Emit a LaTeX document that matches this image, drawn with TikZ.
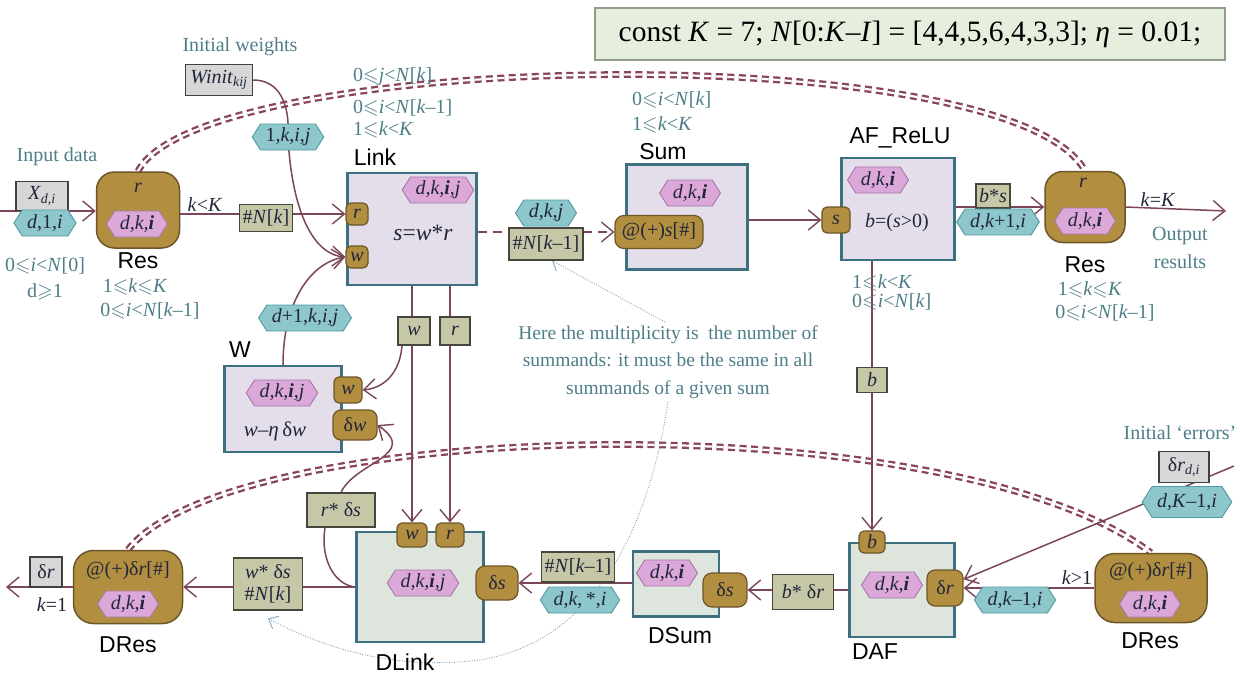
\documentclass[tikz,border=0pt]{standalone}
\usepackage{fontspec}
\usepackage{amssymb}
\setmainfont{Liberation Serif}
\setsansfont{Liberation Sans}
\usetikzlibrary{arrows.meta,shapes.symbols}
\definecolor{procf}{HTML}{E4DEEB}
\definecolor{backf}{HTML}{DDE5DC}
\definecolor{boxb}{HTML}{3D7080}
\definecolor{pinkf}{HTML}{DCA8DA}
\definecolor{pinkd}{HTML}{A577A5}
\definecolor{cyanf}{HTML}{8DC7CB}
\definecolor{cyand}{HTML}{4D9AA2}
\definecolor{goldf}{HTML}{B28F40}
\definecolor{goldd}{HTML}{6C5628}
\definecolor{olivef}{HTML}{C6C7A7}
\definecolor{olived}{HTML}{45463C}
\definecolor{grayf}{HTML}{D7D7D7}
\definecolor{grayd}{HTML}{404040}
\definecolor{linec}{HTML}{7B4659}
\definecolor{dashc}{HTML}{884458}
\definecolor{annoc}{HTML}{4E7E88}
\definecolor{bannerf}{HTML}{E6EEDD}
\definecolor{bannerd}{HTML}{8E9C88}
\definecolor{notec}{HTML}{86A8C4}
\definecolor{inkc}{HTML}{22263A}
\pgfdeclarelayer{under}
\pgfdeclarelayer{wires}
\pgfsetlayers{under,wires,main}
\newcommand{\lesl}{\ensuremath{\leqslant}}
\newcommand{\gesl}{\ensuremath{\geqslant}}
\tikzset{
  conn/.style={draw=linec, line width=1.5pt},
  arr/.style={-{Straight Barb[length=12pt,width=20pt,line width=1.4pt]}},
  ddash/.style={draw=dashc, line width=2.3pt, double=white, double distance=2.2pt, dash pattern=on 7pt off 4.5pt},
  noteline/.style={draw=notec, line width=0.9pt, dash pattern=on 1pt off 1.5pt, -{Straight Barb[length=8pt,width=14pt,line width=0.9pt]}},
  proc/.style={draw=boxb, line width=2.4pt, fill=procf, inner sep=0pt},
  back/.style={draw=boxb, line width=2.4pt, fill=backf, inner sep=0pt},
  hexa/.style={signal, signal to=east and west, signal pointer angle=115, line width=0.9pt, inner xsep=5pt, inner ysep=2pt, minimum height=26pt},
  phex/.style={hexa, draw=pinkd, fill=pinkf},
  chex/.style={hexa, draw=cyand, fill=cyanf},
  port/.style={rounded corners=5pt, draw=goldd, fill=goldf, line width=1.2pt, minimum width=22pt, minimum height=22pt, inner sep=1pt},
  resbox/.style={rounded corners=18pt, draw=goldd, fill=goldf, line width=1.5pt},
  olbox/.style={draw=olived, fill=olivef, line width=1.2pt, inner sep=2pt},
  gybox/.style={draw=grayd, fill=grayf, line width=1.2pt, inner sep=2pt},
  title/.style={font=\sffamily\fontsize{23}{25}\selectfont, text=black},
  anno/.style={text=annoc, font=\fontsize{20}{22}\selectfont},
  cons/.style={anno, anchor=west, inner sep=0pt},
}
\begin{document}
\begin{tikzpicture}[x=1pt, y=-1pt, font=\fontsize{20}{23}\selectfont, text=inkc]
\useasboundingbox (0,0) rectangle (1240,675);

% ---------- constants banner ----------
\node[draw=bannerd, fill=bannerf, line width=1.2pt, minimum width=630pt, minimum height=52pt,
      font=\fontsize{29.5}{31}\selectfont, text=black] (const) at (910,34)
  {const \textit{K} = 7; \textit{N}[0:\textit{K}–\textit{I}] = [4,4,5,6,4,3,3]; \textit{η} = 0.01;};

% ---------- forward pass ----------
\node[anno] (lbin) at (57,157) {Input data};
\node[gybox, minimum width=52pt, minimum height=29pt] (xin) at (42,196) {\textit{X}\textsubscript{\textit{d,i}}};
\node[chex] (hin) at (45,223) {\textit{d},1,\textit{i}};
\node[anno] (cin1) at (45,266) {0\lesl\textit{i}<\textit{N}[0]};
\node[anno] (cin2) at (45,292) {d\gesl1};
\coordinate (inL) at (0,211);

\node[resbox, minimum width=83pt, minimum height=76pt] (res1) at (138,210) {};
\node (res1r) at (138,188) {\textit{r}};
\node[phex] (res1h) at (137,224) {\textit{d,k,\textbf{i}}};
\node[title] (res1t) at (138,261) {Res};
\node[anno] (res1c1) at (135,287) {1\lesl\textit{k}\lesl\textit{K}};
\node[anno] (res1c2) at (150,311) {0\lesl\textit{i}<\textit{N}[\textit{k}–1]};
\node (kltK) at (205,205) {\textit{k}<\textit{K}};
\node[olbox, minimum width=53pt, minimum height=27pt] (nk) at (266,218) {\#\textit{N}[\textit{k}]};

\node[anno] (lbw) at (240,47) {Initial weights};
\node[gybox, minimum width=67pt, minimum height=31pt] (winit) at (219,80) {\textit{Winit}\textsubscript{\textit{kij}}};
\node[chex] (h1) at (288,137) {1,\textit{k},\textit{i},\textit{j}};

\node[proc, minimum width=129pt, minimum height=112pt] (link) at (412,229) {};
\node[title] (linkt) at (375,157) {Link};
\node[phex] (linkh) at (438,190) {\textit{d,k,\textbf{i},j}};
\node[font=\fontsize{23.5}{25}\selectfont] (linkf) at (423,233) {\textit{s}=\textit{w}*\textit{r}};
\node[port] (lr) at (357,214) {\textit{r}};
\node[port] (lw) at (357,257) {\textit{w}};
\node[cons] (lc1) at (353,77) {0\lesl\textit{j}<\textit{N}[\textit{k}]};
\node[cons] (lc2) at (353,108) {0\lesl\textit{i}<\textit{N}[\textit{k}–1]};
\node[cons] (lc3) at (353,130) {1\lesl\textit{k}<\textit{K}};

\node[chex] (hw) at (305,318) {\textit{d}+1,\textit{k},\textit{i},\textit{j}};
\node[proc, minimum width=117pt, minimum height=86pt] (wbox) at (283,409) {};
\node[title] (wt) at (240,350) {W};
\node[phex] (wh) at (282,393) {\textit{d,k,\textbf{i},j}};
\node[font=\fontsize{21}{23}\selectfont] (wf) at (275,431) {\textit{w}–\textit{η}\,δ\textit{w}};
\node[port, minimum width=28pt, minimum height=26pt] (ww) at (348,390) {\textit{w}};
\node[port, minimum width=44pt, minimum height=30pt, rounded corners=8pt] (wdw) at (355,425) {δ\textit{w}};

\node[olbox, minimum width=32pt, minimum height=28pt] (wo) at (414,331) {\textit{w}};
\node[olbox, minimum width=30pt, minimum height=28pt] (ro) at (455,331) {\textit{r}};

\node[chex] (hdkj) at (546,213) {\textit{d,k,j}};
\node[olbox, minimum width=74pt, minimum height=32pt] (nk1) at (546,244) {\#\textit{N}[\textit{k}–1]};

\node[proc, minimum width=121pt, minimum height=105pt] (sum) at (687,217) {};
\node[title] (sumt) at (663,152) {Sum};
\node[phex] (sumh) at (690,193) {\textit{d,k,\textbf{i}}};
\node[port, minimum width=88pt, minimum height=33pt, rounded corners=9pt] (sp) at (659,232) {@(+)\textit{s}[\#]};
\node[cons] (sc1) at (632,100) {0\lesl\textit{i}<\textit{N}[\textit{k}]};
\node[cons] (sc2) at (632,125) {1\lesl\textit{k}<\textit{K}};

\node[proc, minimum width=113pt, minimum height=102pt] (af) at (898,209) {};
\node[title] (aft) at (900,138) {AF\_ReLU};
\node[phex] (afh) at (878,180) {\textit{d,k,\textbf{i}}};
\node (aff) at (897,223) {\textit{b}=(\textit{s}>0)};
\node[port, minimum width=28pt, minimum height=26pt] (afs) at (836,220) {\textit{s}};
\node[cons] (afc1) at (852,283) {1\lesl\textit{k}<\textit{K}};
\node[cons] (afc2) at (852,302) {0\lesl\textit{i}<\textit{N}[\textit{k}]};
\node[olbox, minimum width=30pt, minimum height=25pt] (bo) at (872,380) {\textit{b}};

\node[olbox, minimum width=34pt, minimum height=24pt] (bs) at (993,196) {\textit{b}*\textit{s}};
\node[chex] (hk1) at (998,222) {\textit{d},\textit{k}+1,\textit{i}};

\node[resbox, minimum width=80pt, minimum height=71pt] (res2) at (1085,207) {};
\node (res2r) at (1083,183) {\textit{r}};
\node[phex] (res2h) at (1085,221) {\textit{d,k,\textbf{i}}};
\node[title] (res2t) at (1085,265) {Res};
\node[anno] (res2c1) at (1090,290) {1\lesl\textit{k}\lesl\textit{K}};
\node[anno] (res2c2) at (1105,313) {0\lesl\textit{i}<\textit{N}[\textit{k}–1]};
\node (keqK) at (1158,200) {\textit{k}=\textit{K}};
\node[anno] (lbout1) at (1180,236) {Output};
\node[anno] (lbout2) at (1180,262) {results};
\coordinate (outR) at (1226,211);

\node[anno, align=center, font=\fontsize{19.5}{27.5}\selectfont] (note) at (668,362)
  {Here the multiplicity is\ \ the number of\\summands: it must be the same in all\\summands of a given sum};

% ---------- backward pass ----------
\node[anno] (lberr) at (1180,433) {Initial ‘errors’};
\node[gybox, minimum width=50pt, minimum height=31pt] (dri) at (1184,467) {δ\textit{r}\textsubscript{\textit{d,i}}};
\node[chex, minimum height=31pt] (hK1) at (1187,502) {\textit{d},\textit{K}–1,\textit{i}};
\coordinate (errIn) at (1234,466);

\node[resbox, minimum width=112pt, minimum height=69pt, rounded corners=20pt] (dres2) at (1151,588) {};
\node (dres2s) at (1151,572) {@(+)δ\textit{r}[\#]};
\node[phex] (dres2h) at (1150,604) {\textit{d,k,\textbf{i}}};
\node[title] (dres2t) at (1150,641) {DRes};
\node (kgt1) at (1077,578) {\textit{k}>1};
\node[chex] (hkm1) at (1015,600) {\textit{d},\textit{k}–1,\textit{i}};

\node[back, minimum width=105pt, minimum height=94pt] (daf) at (902,590) {};
\node[title] (daft) at (875,652) {DAF};
\node[phex] (dafh) at (892,585) {\textit{d,k,\textbf{i}}};
\node[port, minimum width=26pt, minimum height=22pt] (dafb) at (872,542) {\textit{b}};
\node[port, minimum width=36pt, minimum height=36pt, rounded corners=8pt] (dafr) at (945,588) {δ\textit{r}};

\node[olbox, minimum width=61pt, minimum height=35pt] (bdr) at (803,592) {\textit{b}* δ\textit{r}};

\node[back, minimum width=86pt, minimum height=65pt] (dsum) at (676,584) {};
\node[title] (dsumt) at (680,636) {DSum};
\node[phex] (dsumh) at (667,573) {\textit{d,k,\textbf{i}}};
\node[port, minimum width=44pt, minimum height=34pt, rounded corners=9pt] (dss) at (725,590) {δ\textit{s}};

\node[olbox, minimum width=73pt, minimum height=30pt] (nk1b) at (578,567) {\#\textit{N}[\textit{k}–1]};
\node[chex] (hstar) at (580,600) {\textit{d},\textit{k},\,*,\textit{i}};

\node[back, minimum width=127pt, minimum height=110pt] (dlink) at (420,587) {};
\node[title] (dlinkt) at (405,662) {DLink};
\node[phex] (dlinkh) at (423,583) {\textit{d,k,\textbf{i},j}};
\node[port, minimum width=30pt, minimum height=24pt] (dlw) at (412,535) {\textit{w}};
\node[port, minimum width=28pt, minimum height=24pt] (dlr) at (450,535) {\textit{r}};
\node[port, minimum width=42pt, minimum height=34pt, rounded corners=9pt] (dls) at (497,583) {δ\textit{s}};

\node[olbox, minimum width=68pt, minimum height=34pt] (rds) at (341,510) {\textit{r}* δ\textit{s}};
\node[olbox, minimum width=69pt, minimum height=52pt, align=center, font=\fontsize{20}{22}\selectfont] (wds) at (268,584) {\textit{w}* δ\textit{s}\\\#\textit{N}[\textit{k}]};

\node[resbox, minimum width=109pt, minimum height=73pt, rounded corners=20pt] (dres1) at (128,587) {};
\node (dres1s) at (128,571) {@(+)δ\textit{r}[\#]};
\node[phex] (dres1h) at (128,604) {\textit{d,k,\textbf{i}}};
\node[title] (dres1t) at (128,645) {DRes};
\node[gybox, minimum width=32pt, minimum height=30pt] (dro) at (46,572) {δ\textit{r}};
\node (keq1) at (52,605) {\textit{k}=1};
\coordinate (outL) at (6,587);

% ---------- dependence curves and notes ----------
\begin{pgfonlayer}{under}
  \fill[white] (0,0) rectangle (1240,675);
  \draw[ddash] (res1.north) .. controls (200,50) and (1010,35) .. (res2.north);
  \draw[ddash] (dres1.north) .. controls (230,418) and (950,400) .. (dres2.north);
  \draw[noteline] ([xshift=-3pt]note.north) -- ([xshift=6pt]nk1.south);
  \draw[noteline] (note.south) .. controls (650,520) and (600,640) .. (480,660)
                  .. controls (380,672) and (310,640) .. ([yshift=-8pt]wds.south);
\end{pgfonlayer}

% ---------- data flow ----------
\begin{pgfonlayer}{wires}
  \draw[conn,arr] (inL) -- (inL -| res1.west);
  \draw[conn,arr] (res1.east |- lr) -- (lr.west);
  \draw[conn,arr] (winit.east) .. controls (280,80) and (290,105) .. (h1.center)
                  .. controls (292,215) and (315,255) .. (lw.west);
  \draw[conn,arr] (wbox.north) .. controls (283,300) and (312,262) .. (lw.west);
  \draw[conn,arr,dash pattern=on 9pt off 6pt] (link.east |- sp) -- (sp.west);
  \draw[conn,arr] (sum.east |- afs) -- (afs.west);
  \draw[conn,arr] (af.east |- res2.west) -- (res2.west);
  \draw[conn,arr] (res2.east) -- (outR);
  \draw[conn,arr] (link.south -| dlw) -- (dlw.north);
  \draw[conn,arr] (link.south -| dlr) -- (dlr.north);
  \draw[conn,arr] ([xshift=-12pt]wo.south) .. controls (400,372) and (385,388) .. (ww.east);
  \draw[conn,arr] (af.south -| dafb) -- (dafb.north);
  \draw[conn,arr] (errIn) -- (dafr.25);
  \draw[conn,arr] (dres2.west) -- (dres2.west -| dafr.east);
  \draw[conn,arr] (daf.west |- dss) -- (dss.east);
  \draw[conn,arr] (dsum.west |- dls) -- (dls.east);
  \draw[conn,arr] (dlink.west) -- (dres1.east);
  \draw[conn] ([xshift=-16pt]rds.south) .. controls (320,560) and (335,585) .. (dlink.west);
  \draw[conn,arr] (rds.north) .. controls (355,462) and (420,455) .. (wdw.east);
  \draw[conn,arr] (dres1.west) -- (outL);
\end{pgfonlayer}
\end{tikzpicture}
\end{document}
